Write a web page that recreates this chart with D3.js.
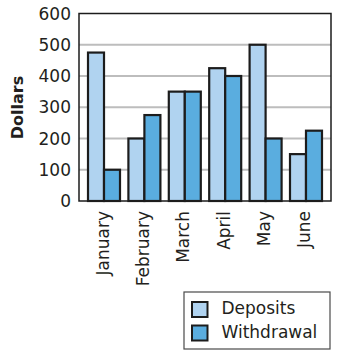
<!DOCTYPE html>
<html>
<head>
<meta charset="utf-8">
<script src="https://cdn.jsdelivr.net/npm/d3@7/dist/d3.min.js"></script>
<style>
  html, body { margin: 0; padding: 0; background: #fff; }
  svg { display: block; }
  text { font-family: "DejaVu Sans", sans-serif; fill: #231f20; }
</style>
</head>
<body>
<svg id="chart" width="342" height="357"></svg>
<script>
// Monthly deposits and withdrawals, in dollars
const months = ["January", "February", "March", "April", "May", "June"];
const deposits = [475, 200, 350, 425, 500, 150];
const withdrawals = [100, 275, 350, 400, 200, 225];
const yTicks = [0, 100, 200, 300, 400, 500, 600];
const seriesNames = ["Deposits", "Withdrawal"];
const seriesColors = ["#b0d3f0", "#5aaddf"];

const svg = d3.select("#chart");
const plot = { left: 79, right: 331, top: 13.5, bottom: 201 };

const x = d3.scaleBand()
  .domain(months)
  .range([plot.left, plot.right])
  .paddingInner(0.208)
  .paddingOuter(0.223);

const xSeries = d3.scaleBand()
  .domain(seriesNames)
  .range([0, x.bandwidth()]);

const y = d3.scaleLinear()
  .domain([0, 600])
  .range([plot.bottom, plot.top]);

// horizontal grid lines
svg.append("g")
  .selectAll("line")
  .data(yTicks.filter(t => t > 0 && t < 600))
  .join("line")
  .attr("x1", plot.left)
  .attr("x2", plot.right)
  .attr("y1", d => y(d))
  .attr("y2", d => y(d))
  .attr("stroke", "#bdbdbd")
  .attr("stroke-width", 2);

// y tick labels
svg.append("g")
  .selectAll("text")
  .data(yTicks)
  .join("text")
  .attr("x", 71)
  .attr("y", d => y(d))
  .attr("dy", "0.36em")
  .attr("text-anchor", "end")
  .attr("font-size", 17)
  .text(d => d);

// y axis title
svg.append("text")
  .attr("transform", "translate(23,107.5) rotate(-90)")
  .attr("text-anchor", "middle")
  .attr("font-size", 16)
  .attr("font-weight", "bold")
  .text("Dollars");

// bars
const rows = months.map((m, i) => ({ month: m, values: [deposits[i], withdrawals[i]] }));
const groups = svg.append("g")
  .selectAll("g")
  .data(rows)
  .join("g")
  .attr("transform", d => `translate(${x(d.month)},0)`);

groups.selectAll("rect")
  .data(d => d.values.map((v, j) => ({ name: seriesNames[j], value: v, color: seriesColors[j] })))
  .join("rect")
  .attr("x", d => xSeries(d.name))
  .attr("width", xSeries.bandwidth())
  .attr("y", d => y(d.value))
  .attr("height", d => y(0) - y(d.value))
  .attr("fill", d => d.color)
  .attr("stroke", "#1c1c1c")
  .attr("stroke-width", 2.2);

// plot frame
svg.append("rect")
  .attr("x", plot.left)
  .attr("y", plot.top)
  .attr("width", plot.right - plot.left)
  .attr("height", plot.bottom - plot.top)
  .attr("fill", "none")
  .attr("stroke", "#1c1c1c")
  .attr("stroke-width", 1.5);

// month labels, rotated
svg.append("g")
  .selectAll("text")
  .data(months)
  .join("text")
  .attr("transform", d => `translate(${x(d) + x.bandwidth() / 2 + 4.5},211) rotate(-90)`)
  .attr("text-anchor", "end")
  .attr("font-size", 17)
  .text(d => d);

// legend
const legend = svg.append("g");
legend.append("rect")
  .attr("x", 184)
  .attr("y", 292)
  .attr("width", 146)
  .attr("height", 57)
  .attr("fill", "#fff")
  .attr("stroke", "#4a4a4a")
  .attr("stroke-width", 1.2);

const items = legend.selectAll("g.item")
  .data(seriesNames)
  .join("g")
  .attr("class", "item")
  .attr("transform", (d, i) => `translate(192,${302 + i * 23.5})`);

items.append("rect")
  .attr("width", 15.5)
  .attr("height", 15)
  .attr("fill", (d, i) => seriesColors[i])
  .attr("stroke", "#1c1c1c")
  .attr("stroke-width", 2);

items.append("text")
  .attr("x", 29.5)
  .attr("y", 12.3)
  .attr("font-size", 17)
  .text(d => d);
</script>
</body>
</html>
